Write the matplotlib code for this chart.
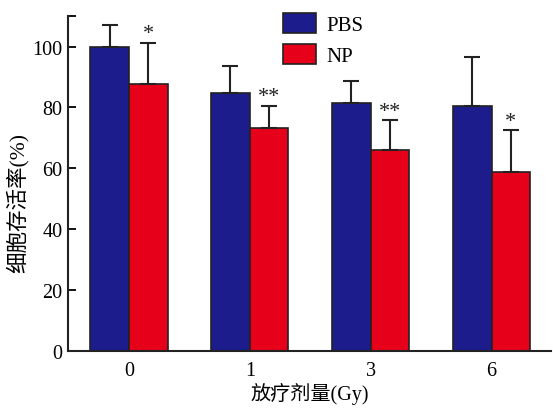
import matplotlib.pyplot as plt
import numpy as np

plt.rcParams['font.family'] = ['Liberation Serif', 'Noto Sans CJK SC']

doses = ['0', '1', '3', '6']
pbs_mean = [99.8, 84.8, 81.6, 80.5]
pbs_top = [107.1, 93.5, 88.6, 96.5]
np_mean = [87.8, 73.2, 66.0, 58.9]
np_top = [101.2, 80.6, 75.8, 72.5]
stars = ['*', '**', '**', '*']

pbs_err = np.array(pbs_top) - np.array(pbs_mean)
np_err = np.array(np_top) - np.array(np_mean)

x = np.arange(len(doses))
w = 0.32
blue = '#1c1c8c'
red = '#e6001a'

fig = plt.figure(figsize=(5.53, 4.10), dpi=100)
ax = fig.add_axes([0.123, 0.142, 0.873, 0.816])

errkw = dict(ecolor='#222222', elinewidth=1.5, capsize=6, capthick=1.5)
ax.bar(x - w / 2, pbs_mean, w, color=blue, edgecolor='#222222', linewidth=1.2,
       yerr=[np.zeros(4), pbs_err], error_kw=errkw, label='PBS', zorder=2)
ax.bar(x + w / 2, np_mean, w, color=red, edgecolor='#222222', linewidth=1.2,
       yerr=[np.zeros(4), np_err], error_kw=errkw, label='NP', zorder=2)

for i in range(len(doses)):
    ax.text(x[i] + w / 2, np_top[i] + 3.0, stars[i], ha='center', va='center',
            fontsize=16, color='#222222')

ax.set_xlim(-0.504, 3.49)
ax.set_ylim(0, 110)
ax.set_yticks([0, 20, 40, 60, 80, 100, 110])
ax.set_yticklabels(['0', '20', '40', '60', '80', '100', ''])
ax.set_xticks(x)
ax.set_xticklabels(doses)
ax.tick_params(axis='y', direction='in', length=6, width=1.3, labelsize=14.5, pad=4)
ax.tick_params(axis='x', length=0, labelsize=14.5, pad=7)
for s in ['top', 'right']:
    ax.spines[s].set_visible(False)
for s in ['left', 'bottom']:
    ax.spines[s].set_linewidth(1.5)
    ax.spines[s].set_color('#222222')

ax.set_ylabel('细胞存活率(%)', fontsize=15.5)
ax.yaxis.set_label_coords(-0.081, 0.445)
ax.set_xlabel('放疗剂量(Gy)', fontsize=14.5, labelpad=2)

leg = ax.legend(loc='upper left', bbox_to_anchor=(0.445, 1.01), frameon=False,
                fontsize=15, handlelength=1.6, handleheight=1.1, handletextpad=0.5,
                labelspacing=0.45, borderaxespad=0, borderpad=0)

fig.savefig('out.png', dpi=100)
